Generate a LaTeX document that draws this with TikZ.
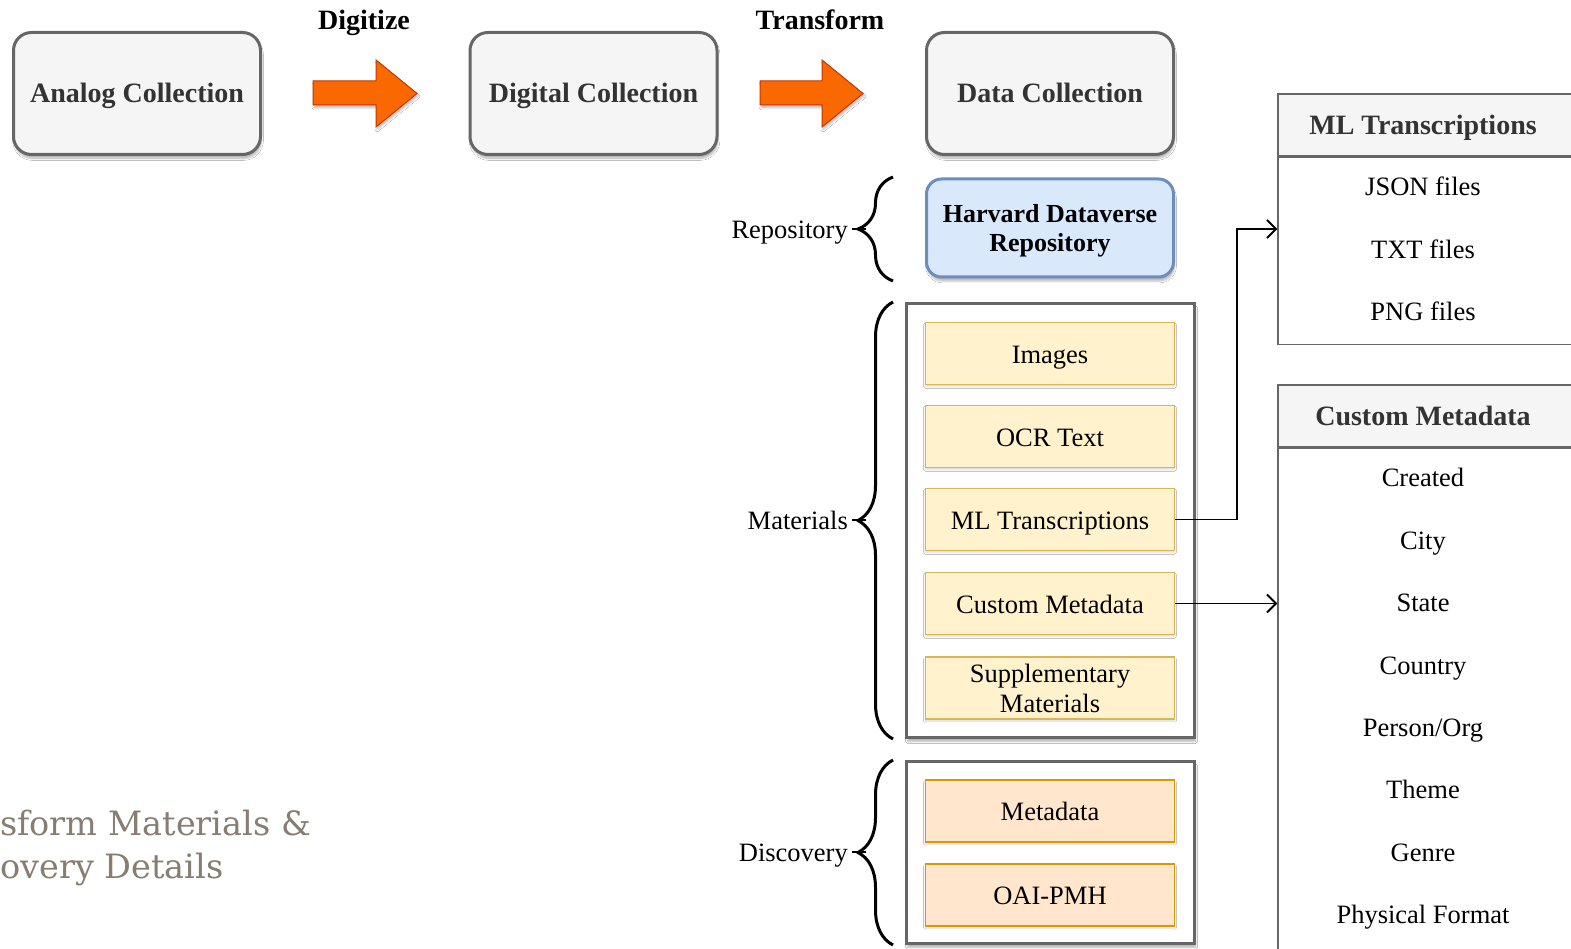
\documentclass[tikz,border=0pt]{standalone}
\usepackage{fontspec}
\setmainfont{Liberation Serif}
\newfontfamily\slabfont{DejaVu Serif}
\usetikzlibrary{arrows.meta,shadows.blur,decorations.pathreplacing,calc}

\definecolor{stageline}{HTML}{666666}
\definecolor{stagefill}{HTML}{F5F5F5}
\definecolor{stagetext}{HTML}{333333}
\definecolor{blueline}{HTML}{6C8EBF}
\definecolor{bluefill}{HTML}{DAE8FC}
\definecolor{yelline}{HTML}{D6B656}
\definecolor{yelfill}{HTML}{FFF2CC}
\definecolor{orgline}{HTML}{D79B00}
\definecolor{orgfill}{HTML}{FFE6CC}
\definecolor{arrowfill}{HTML}{FA6800}
\definecolor{arrowline}{HTML}{C73500}
\definecolor{titlegrey}{HTML}{877D70}

\begin{document}
\begin{tikzpicture}[x=1pt,y=-1pt,
  softshadow/.style={blur shadow={shadow xshift=1pt,shadow yshift=-4pt,shadow blur steps=6,shadow opacity=28}},
  oneline/.style={text height=20pt,text depth=1pt},
  bodyfont/.style={font=\fontsize{26.5}{31}\selectfont},
  boldfont/.style={font=\fontsize{28}{31}\selectfont\bfseries},
  stage/.style={draw=stageline,line width=3pt,fill=stagefill,rounded corners=18pt,
    minimum width=247pt,minimum height=122pt,text=stagetext,boldfont,oneline,softshadow},
  repo/.style={draw=blueline,line width=3pt,fill=bluefill,rounded corners=15pt,
    minimum width=247pt,minimum height=98pt,softshadow},
  repotext/.style={align=center,font=\fontsize{26}{29}\selectfont\bfseries},
  frame/.style={draw=stageline,line width=3pt,fill=white,minimum width=288pt,softshadow},
  item/.style={draw=yelline,line width=1.5pt,fill=yelfill,minimum width=249pt,
    minimum height=62pt,align=center,bodyfont,oneline,
    blur shadow={shadow xshift=0pt,shadow yshift=-2pt,shadow blur steps=4,shadow opacity=15}},
  ditem/.style={item,draw=orgline,fill=orgfill},
  thead/.style={draw=stageline,line width=1.5pt,fill=stagefill,minimum width=296pt,
    minimum height=62pt},
  ttitle/.style={boldfont,oneline,text=stagetext},
  tbody/.style={draw=stageline,line width=1.5pt,fill=white,minimum width=296pt},
  tcell/.style={bodyfont,oneline,inner sep=0pt},
  bigarrow/.style={fill=arrowfill,draw=arrowline,line width=1pt,
    blur shadow={shadow xshift=1pt,shadow yshift=-3pt,shadow blur steps=5,shadow opacity=25}},
  steplabel/.style={boldfont,oneline,text=black},
  grp/.style={bodyfont,oneline,anchor=east,inner sep=0pt},
  curly/.style={decorate,decoration={brace,amplitude=35pt},line width=3pt},
  conn/.style={line width=1.8pt,-{Straight Barb[length=9pt,width=18pt,line width=1.8pt]}},
  caption/.style={anchor=base west,inner sep=0pt,text=titlegrey,
    font=\slabfont\fontsize{33.5}{44}\selectfont}
]
\clip (0,0) rectangle (1571,949);
\fill[white] (0,0) rectangle (1571,949);

% top row of collections
\node[stage] (analog)  at (137,93.5)  {Analog Collection};
\node[stage] (digital) at (593.5,93.5) {Digital Collection};
\node[stage] (data)    at (1050,93.5) {Data Collection};

% step arrows between the collections
\path[bigarrow] (313,81)--(376,81)--(376,60)--(417,93.5)--(376,127)--(376,105)--(313,105)--cycle;
\path[bigarrow] (760,81)--(822,81)--(822,60)--(863,93.5)--(822,127)--(822,105)--(760,105)--cycle;
\node[steplabel] (digitize)  at (364,20) {Digitize};
\node[steplabel] (transform) at (820,20) {Transform};

% repository
\node[repo] (harvard) at (1050,228) {};
\node[repotext] (harvardtext) at (1050,231) {Harvard Dataverse\\Repository};

% materials group
\node[frame,minimum height=434pt] (matframe) at (1050.5,520.5) {};
\node[item] (images) at (1050,353.5) {Images};
\node[item] (ocr)    at (1050,436.5) {OCR Text};
\node[item] (mlt)    at (1050,519.5) {ML Transcriptions};
\node[item] (cmt)    at (1050,603.5) {Custom Metadata};
\node[item,text height=,text depth=] (supp) at (1050,688) {Supplementary\\[-1pt]Materials};

% discovery group
\node[frame,minimum height=182pt] (discframe) at (1050.5,852.5) {};
\node[ditem] (meta) at (1050,811) {Metadata};
\node[ditem] (oai)  at (1050,895) {OAI-PMH};

% braces and group labels
\draw[curly] (893,281) -- (893,177);
\draw[curly] (893,739) -- (893,302);
\draw[curly] (893,945) -- (893,760);
\node[grp] (lrepo) at (848,229) {Repository};
\node[grp] (lmat)  at (848,520) {Materials};
\node[grp] (ldisc) at (848,852) {Discovery};
\coordinate (trepo) at (866,229);
\coordinate (tmat)  at (866,520);
\coordinate (tdisc) at (866,852);
\draw[line width=2.5pt] (lrepo.east) ++(4,0) -- (trepo);
\draw[line width=2.5pt] (lmat.east) ++(4,0) -- (tmat);
\draw[line width=2.5pt] (ldisc.east) ++(4,0) -- (tdisc);

% ML transcriptions table
\node[thead] (mlhead) at (1426,125) {};
\node[ttitle] (mltitle) at (1423,125) {ML Transcriptions};
\node[tbody,minimum height=187pt,anchor=north] (mlbody) at (mlhead.south) {};
\node[tcell] (json) at (1423,186) {JSON files};
\node[tcell] (txt)  at (1423,249) {TXT files};
\node[tcell] (png)  at (1423,311) {PNG files};

% custom metadata table
\node[thead] (cmhead) at (1426,416) {};
\node[ttitle] (cmtitle) at (1423,416) {Custom Metadata};
\node[tbody,minimum height=520pt,anchor=north] (cmbody) at (cmhead.south) {};
\node[tcell] (created) at (1423,477) {Created};
\node[tcell] (city)    at (1423,540) {City};
\node[tcell] (state)   at (1423,602) {State};
\node[tcell] (country) at (1423,665) {Country};
\node[tcell] (person)  at (1423,727) {Person/Org};
\node[tcell] (theme)   at (1423,789) {Theme};
\node[tcell] (genre)   at (1423,852) {Genre};
\node[tcell] (format)  at (1423,914) {Physical Format};

% links from the material items to their tables
\coordinate (mlin) at (mlbody.west |- 0,229);
\draw[conn] (mlt.east) -- (1237,519.5) |- (mlin);
\draw[conn] (cmt.east) -- (cmt.east -| cmbody.west);

% section caption
\node[caption] (cap1) at (0,835) {sform Materials \&};
\node[caption] (cap2) at (0,878) {overy Details};
\end{tikzpicture}
\end{document}
